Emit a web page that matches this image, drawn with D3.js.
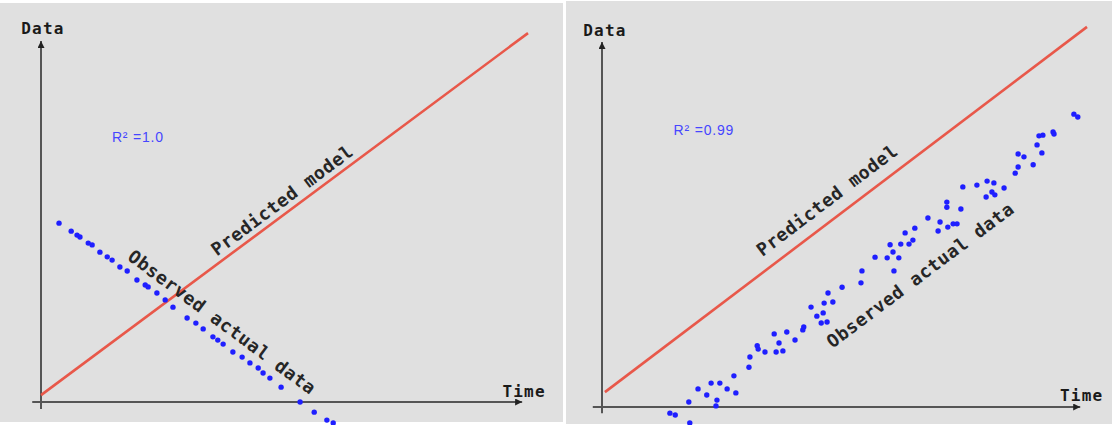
<!DOCTYPE html>
<html>
<head>
<meta charset="utf-8">
<script src="https://cdn.jsdelivr.net/npm/d3@7/dist/d3.min.js"></script>
<style>
  html, body { margin: 0; padding: 0; background: #ffffff; }
  svg { display: block; }
</style>
</head>
<body>
<svg id="chart" width="1112" height="425"></svg>
<script>
// ---- Left panel: perfect (negative) correlation ----
const leftModelTime = [0, 100];
const leftModelValue = [1.9, 101.9];
const leftTime = [3.7, 6.2, 7.4, 8.0, 9.7, 10.5, 12.1, 13.6, 14.6, 16.2, 17.7, 19.7, 21.4, 22.0,
  23.8, 25.5, 27.1, 30.0, 31.8, 33.3, 35.3, 36.3, 37.4, 39.4, 41.3, 42.9, 44.6, 45.6, 47.0,
  49.3, 53.2, 56.1, 58.7, 60.0];
const leftObserved = [49.4, 47.2, 46.1, 45.6, 43.9, 43.4, 41.4, 40.1, 39.2, 37.3, 36.2, 33.7, 32.3, 31.8,
  30.1, 28.2, 26.2, 23.2, 21.8, 20.2, 18.0, 17.1, 16.0, 13.8, 12.4, 10.8, 9.4, 8.0, 6.6,
  4.1, 0.0, -2.8, -5.0, -5.8];
const leftR2 = "R² =1.0";

// ---- Right panel: high correlation, offset from the model ----
const rightModelTime = [0.6, 100];
const rightModelValue = [4.1, 105];
const rightTime = [14.0, 15.1, 18.1, 17.9, 19.8, 21.6, 22.5, 23.7, 23.5, 24.3, 25.8, 27.6, 27.2, 30.3,
  30.5, 32.0, 32.2, 33.6, 35.5, 35.9, 36.5, 37.3, 38.1, 39.8, 41.4, 41.6, 43.1, 44.3, 45.6,
  45.2, 46.4, 45.8, 46.6, 47.6, 49.5, 53.4, 53.6, 56.3, 58.8, 59.4, 60.0, 60.2, 61.2, 61.6,
  62.5, 63.3, 64.1, 64.5, 67.2, 69.3, 69.7, 71.3, 72.4, 73.2, 71.1, 71.1, 74.0, 74.4, 77.3,
  79.4, 80.8, 79.2, 80.4, 81.0, 82.9, 85.2, 85.8, 85.8, 87.0, 88.9, 89.7, 90.7, 90.1, 90.9,
  93.0, 93.2, 97.3, 98.1];
const rightObserved = [-1.7, -2.2, -4.4, 1.4, 5.0, 3.3, 6.6, 1.9, 0.3, 6.6, 5.0, 3.9, 8.6, 11.0,
  13.8, 16.9, 16.0, 15.2, 20.2, 15.2, 17.7, 15.5, 20.7, 18.5, 21.3, 22.1, 27.6, 25.1, 26.0,
  23.2, 23.5, 28.7, 31.5, 29.0, 33.1, 34.3, 37.6, 41.4, 41.2, 44.8, 42.8, 37.6, 41.2, 45.0,
  48.1, 45.0, 46.1, 49.4, 52.2, 48.6, 51.1, 49.7, 50.6, 50.6, 56.6, 55.2, 54.7, 60.8, 61.3,
  62.4, 61.9, 58.0, 59.4, 58.6, 60.5, 64.6, 66.3, 69.9, 69.1, 66.9, 72.4, 70.2, 74.9, 75.1,
  76.0, 75.4, 80.9, 80.1];
const rightR2 = "R² =0.99";

// Axis / annotation texts
const yAxisLabel = "Data";
const xAxisLabel = "Time";
const modelLabel = "Predicted model";
const observedLabel = "Observed actual data";

const svg = d3.select("#chart");

const defs = svg.append("defs");
defs.append("marker")
  .attr("id", "arrow")
  .attr("viewBox", "0 0 10 10")
  .attr("refX", 10).attr("refY", 5)
  .attr("markerWidth", 9).attr("markerHeight", 7)
  .attr("markerUnits", "userSpaceOnUse")
  .attr("orient", "auto")
  .append("path")
  .attr("d", "M0,0 L10,5 L0,10 Z")
  .attr("fill", "#222");

const panels = [
  {
    bg: [0, 3, 563, 419],
    x: d3.scaleLinear().domain([0, 100]).range([41, 528]),
    y: d3.scaleLinear().domain([0, 100]).range([402, 40]),
    xAxisExtent: [-1.8, 98.8], yAxisExtent: [-1.9, 99.7],
    modelT: leftModelTime, modelV: leftModelValue,
    t: leftTime, v: leftObserved, r2: leftR2,
    r2Pos: [19.9, 73.2],
    dataPos: [0.4, 103.3], timePos: [99.2, 2.8],
    modelPos: [49.5, 55.8],
    obsPos: [37.2, 22.1]
  },
  {
    bg: [566, 1, 546, 423],
    x: d3.scaleLinear().domain([0, 100]).range([602, 1087]),
    y: d3.scaleLinear().domain([0, 100]).range([407, 45]),
    xAxisExtent: [-1.9, 98.6], yAxisExtent: [-1.7, 100.8],
    modelT: rightModelTime, modelV: rightModelValue,
    t: rightTime, v: rightObserved, r2: rightR2,
    r2Pos: [21.0, 76.5],
    dataPos: [0.6, 104.1], timePos: [98.9, 3.3],
    modelPos: [46.4, 57.2],
    obsPos: [65.6, 36.5]
  }
];

panels.forEach(p => {
  const g = svg.append("g");
  const { x, y } = p;

  g.append("rect")
    .attr("x", p.bg[0]).attr("y", p.bg[1])
    .attr("width", p.bg[2]).attr("height", p.bg[3])
    .attr("fill", "#e0e0e0");

  // axes drawn as arrows starting slightly past the origin
  g.append("line")
    .attr("x1", x(p.xAxisExtent[0])).attr("x2", x(p.xAxisExtent[1]))
    .attr("y1", y(0)).attr("y2", y(0))
    .attr("stroke", "#555").attr("stroke-width", 2)
    .attr("marker-end", "url(#arrow)");
  g.append("line")
    .attr("x1", x(0)).attr("x2", x(0))
    .attr("y1", y(p.yAxisExtent[0])).attr("y2", y(p.yAxisExtent[1]))
    .attr("stroke", "#555").attr("stroke-width", 2)
    .attr("marker-end", "url(#arrow)");

  // predicted model line
  const modelPts = p.modelT.map((t, i) => [t, p.modelV[i]]);
  g.append("path")
    .datum(modelPts)
    .attr("d", d3.line().x(d => x(d[0])).y(d => y(d[1])))
    .attr("fill", "none")
    .attr("stroke", "#e8584a")
    .attr("stroke-width", 2.6);

  // observed points
  const pts = p.t.map((t, i) => ({ t, v: p.v[i] }));
  g.selectAll("circle.obs")
    .data(pts)
    .join("circle")
    .attr("class", "obs")
    .attr("cx", d => x(d.t))
    .attr("cy", d => y(d.v))
    .attr("r", 2.7)
    .attr("fill", "#1f1fff");

  // angle of a segment in screen space
  const angleOf = (a, b) => Math.atan2(y(b[1]) - y(a[1]), x(b[0]) - x(a[0])) * 180 / Math.PI;
  const modelAngle = angleOf(modelPts[0], modelPts[1]);

  // trend of the observed points (least squares) for the label angle
  const mt = d3.mean(p.t), mv = d3.mean(p.v);
  const slope = d3.sum(p.t, (t, i) => (t - mt) * (p.v[i] - mv)) / d3.sum(p.t, t => (t - mt) ** 2);
  const obsAngle = angleOf([0, 0], [10, 10 * slope]);

  const monoFont = "'DejaVu Sans Mono', 'Liberation Mono', monospace";

  g.append("text")
    .attr("transform", `translate(${x(p.modelPos[0])},${y(p.modelPos[1])}) rotate(${modelAngle})`)
    .attr("text-anchor", "middle")
    .attr("dominant-baseline", "central")
    .attr("font-family", monoFont)
    .attr("font-size", 18)
    .attr("font-weight", "bold")
    .attr("letter-spacing", 0.6)
    .attr("fill", "#262626")
    .text(modelLabel);

  g.append("text")
    .attr("transform", `translate(${x(p.obsPos[0])},${y(p.obsPos[1])}) rotate(${obsAngle})`)
    .attr("text-anchor", "middle")
    .attr("dominant-baseline", "central")
    .attr("font-family", monoFont)
    .attr("font-size", 18)
    .attr("font-weight", "bold")
    .attr("letter-spacing", 0.6)
    .attr("fill", "#262626")
    .text(observedLabel);

  g.append("text")
    .attr("x", x(p.r2Pos[0])).attr("y", y(p.r2Pos[1]))
    .attr("text-anchor", "middle")
    .attr("dominant-baseline", "central")
    .attr("font-family", "'Liberation Sans', Arial, sans-serif")
    .attr("font-size", 14)
    .attr("letter-spacing", 0.8)
    .attr("fill", "#4646ff")
    .text(p.r2);

  g.append("text")
    .attr("x", x(p.dataPos[0])).attr("y", y(p.dataPos[1]))
    .attr("text-anchor", "middle")
    .attr("dominant-baseline", "central")
    .attr("font-family", monoFont)
    .attr("font-weight", "bold")
    .attr("font-size", 16)
    .attr("letter-spacing", 1.2)
    .attr("fill", "#1a1a1a")
    .text(yAxisLabel);

  g.append("text")
    .attr("x", x(p.timePos[0])).attr("y", y(p.timePos[1]))
    .attr("text-anchor", "middle")
    .attr("dominant-baseline", "central")
    .attr("font-family", monoFont)
    .attr("font-weight", "bold")
    .attr("font-size", 16)
    .attr("letter-spacing", 1.2)
    .attr("fill", "#1a1a1a")
    .text(xAxisLabel);
});
</script>
</body>
</html>
